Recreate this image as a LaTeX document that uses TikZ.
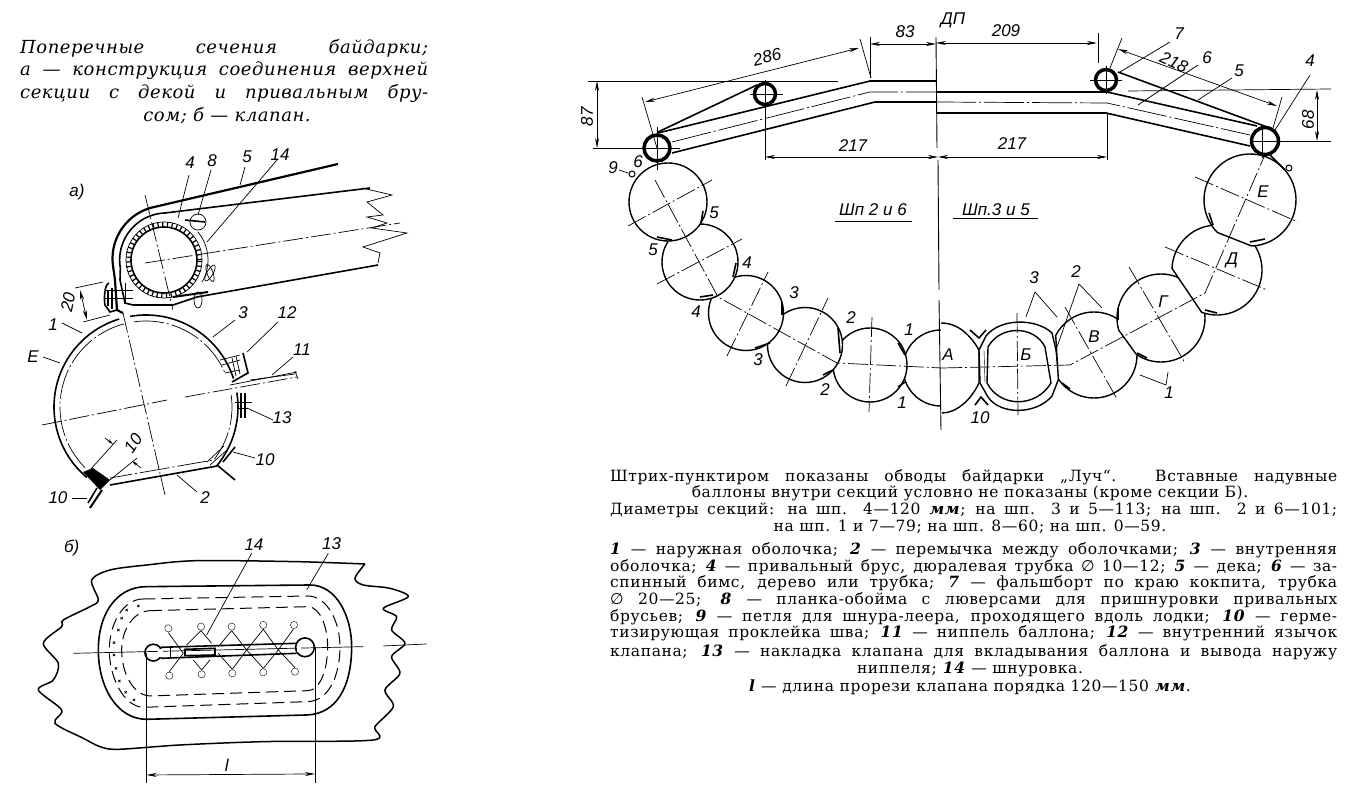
\documentclass[tikz,border=0pt]{standalone}
\usepackage{fontspec}
\usepackage{xcolor}
\usepackage{tikz}
\usetikzlibrary{arrows.meta}
\usetikzlibrary{plotmarks}
\setmainfont{DejaVu Serif}
\newfontfamily\capfont{DejaVu Serif}[LetterSpace=4]
\newfontfamily\titlefont{DejaVu Serif}[LetterSpace=3]
\newfontfamily\drawfont{Liberation Sans}
\newfontfamily\symfont{DejaVu Sans}
\newcommand{\nm}[1]{\textbf{\textit{#1}}}
\newcommand{\dia}{{\symfont ∅}}
\tikzset{
    hull/.style = {draw = black, fill = white, line width = 1.4pt},
    axisline/.style = {line width = 0.7pt, dash pattern = on 20pt off 3pt on 2pt off 3pt},
    dimline/.style = {line width = 0.7pt, {Stealth[length = 10pt, width = 4pt]}-{Stealth[length = 10pt, width = 4pt]}},
    thinline/.style = {line width = 0.7pt},
    wrapline/.style = {line width = 1.6pt},
    tube/.style = {draw = black, fill = white, line width = 3.5pt},
    numlabel/.style = {font = \drawfont\itshape\fontsize{17}{17}\selectfont, inner sep = 0pt},
    capline/.style = {font = \capfont\fontsize{15.5}{16}\selectfont, inner sep = 0pt},
    titleline/.style = {font = \titlefont\itshape\fontsize{18}{20}\selectfont, inner sep = 0pt}
}
\begin{document}
\begin{tikzpicture}[x = 1pt, y = -1pt]
        \useasboundingbox (0, 0) rectangle (1350, 791);

        \node[titleline, anchor = west] (title1) at (20, 48) {\makebox[408pt][s]{Поперечные сечения байдарки;}};
        \node[titleline, anchor = west] (title2) at (20, 71) {\makebox[408pt][s]{а — конструкция соединения верхней}};
        \node[titleline, anchor = west] (title3) at (20, 93) {\makebox[408pt][s]{секции с декой и привальным бру-}};
        \node[titleline] (title4) at (227, 116) {сом; б — клапан.};

        \draw[hull] (941, 330) arc[start angle = 90, delta angle = 180, radius = 38pt];
        \draw[hull] (941, 323) .. controls (960, 323) and (972, 338) .. (979, 350) -- (979, 383)
            .. controls (970, 402) and (955, 413) .. (942, 413);
        \draw[hull] (870, 365) circle (37pt);
        \draw[hull] (805, 345) circle (37.5pt);
        \draw[hull] (746, 313) circle (37.5pt);
        \draw[hull] (700, 262) circle (38pt);
        \draw[hull] (668, 202) circle (39pt);

        \draw[hull] (979, 350) -- (986, 336) .. controls (1000, 318) and (1036, 318) .. (1052, 333)
            -- (1056, 350) -- (1059, 378) -- (1052, 396) .. controls (1036, 415) and (1000, 415) .. (988, 397)
            -- (980, 383) -- cycle;
        \draw[hull] (988, 347) .. controls (1000, 325) and (1034, 325) .. (1045, 347) -- (1051, 383)
            .. controls (1036, 408) and (1000, 408) .. (987, 383) -- cycle;
        \draw (984, 350) -- (985, 383);

        \draw[hull] (1094, 355) ++(214:43pt) arc[start angle = 214, delta angle = 299, radius = 43pt] -- cycle;
        \draw[hull] (1161, 318) ++(236:44pt) arc[start angle = 236, delta angle = 320, radius = 44pt] -- cycle;
        \draw[hull] (1217, 270) ++(250:45pt) arc[start angle = 250, delta angle = 288, radius = 45pt] -- cycle;
        \draw[hull] (1250, 200) ++(272:46pt) arc[start angle = 272, delta angle = 313, radius = 46pt] -- cycle;

        \draw[wrapline] (703, 211) -- (701, 223);
        \draw[wrapline] (657, 237) -- (672, 240);
        \draw[wrapline] (736, 263) -- (733, 277);
        \draw[wrapline] (700, 297) -- (713, 295);
        \draw[wrapline] (782, 302) -- (782, 315);
        \draw[wrapline] (755, 348) -- (770, 343);
        \draw[wrapline] (838, 328) -- (840, 353);
        \draw[wrapline] (823, 375) -- (833, 370);
        \draw[wrapline] (898, 343) -- (905, 355);
        \draw[wrapline] (898, 387) -- (905, 382);
        \draw[wrapline] (1209, 213) -- (1213, 225);
        \draw[wrapline] (1250, 242) -- (1265, 239);
        \draw[wrapline] (1205, 310) -- (1217, 313);
        \draw[wrapline] (1118, 308) -- (1118, 320);
        \draw[wrapline] (1137, 353) -- (1147, 358);
        \draw[wrapline] (1062, 383) -- (1070, 389);
        \draw[wrapline] (970, 330) -- (979, 338) -- (986, 330);
        \draw[wrapline] (975, 405) -- (981, 397) -- (988, 405);

        \draw[axisline] (655, 180) -- (718, 297) -- (837, 363) -- (942, 368);
        \draw[axisline] (942, 368) -- (1070, 365) -- (1205, 293) -- (1267, 150);
        \draw[axisline] (628, 226) -- (712, 180);
        \draw[axisline] (657, 284) -- (742, 239);
        \draw[axisline] (727, 356) -- (768, 272);
        \draw[axisline] (786, 386) -- (828, 298);
        \draw[axisline] (872, 317) -- (869, 412);
        \draw[axisline] (1065, 307) -- (1117, 399);
        \draw[axisline] (1129, 267) -- (1185, 363);
        \draw[axisline] (1165, 247) -- (1267, 290);
        \draw[axisline] (1195, 177) -- (1298, 222);
        \draw[axisline] (1017, 313) -- (1018, 415);

        \draw[line width = 0.9pt] (936, 37) -- (937, 148);
        \draw[line width = 0.9pt] (938, 160) -- (939, 290);
        \draw[line width = 0.9pt] (939, 300) -- (941, 430);

        \draw[wrapline] (658, 133) -- (870, 81) -- (936, 81);
        \draw[thinline, dash pattern = on 40pt off 3pt on 2pt off 3pt] (672, 142) -- (870, 92) -- (936, 92);
        \draw[wrapline] (672, 153) -- (875, 102) -- (936, 102);
        \draw[wrapline] (936, 92) -- (1107, 92) -- (1257, 126);
        \draw[thinline, dash pattern = on 40pt off 3pt on 2pt off 3pt] (936, 102) -- (1107, 103) -- (1250, 135);
        \draw[wrapline] (936, 113) -- (1106, 113) -- (1250, 146);
        \draw[wrapline] (658, 132) -- (757, 85);
        \draw[wrapline] (1118, 72) -- (1267, 127);

        \filldraw[tube] (657, 148) circle (13pt);
        \filldraw[tube] (765, 94) circle (10.5pt);
        \filldraw[tube] (1106, 80) circle (10.5pt);
        \filldraw[tube] (1265, 141) circle (13.5pt);
        \draw[thinline] (657, 127) -- (657, 170);
        \draw[thinline] (640, 148) -- (680, 148);
        \draw[thinline] (765, 80) -- (765, 160);
        \draw[thinline] (750, 94) -- (783, 94);
        \draw[thinline] (1106, 66) -- (1106, 94);
        \draw[thinline] (1090, 80) -- (1122, 80);
        \draw[thinline] (1250, 141) -- (1331, 141);
        \draw[thinline] (1262, 125) -- (1262, 158);

        \draw[thinline] (588, 81) -- (838, 81);
        \draw[thinline] (593, 148) -- (642, 148);
        \draw[thinline] (1128, 91) -- (1331, 89);
        \draw[thinline] (642, 97) -- (657, 148);
        \draw[thinline] (860, 39) -- (871, 78);
        \draw[thinline] (870, 37) -- (870, 78);
        \draw[thinline] (1098, 33) -- (1098, 63);
        \draw[thinline] (1122, 38) -- (1110, 68);
        \draw[thinline] (1282, 97) -- (1273, 128);
        \draw[thinline] (1107, 113) -- (1107, 160);

        \draw[dimline] (597, 81) -- (597, 148);
        \draw[dimline] (645, 102) -- (859, 48);
        \draw[dimline] (870, 44) -- (936, 44);
        \draw[dimline] (936, 43) -- (1097, 43);
        \draw[dimline] (1118, 49) -- (1277, 106);
        \draw[dimline] (1317, 90) -- (1317, 141);
        \draw[dimline] (765, 157) -- (938, 157);
        \draw[dimline] (938, 157) -- (1107, 157);

        \node[numlabel, rotate = 90] (dim87) at (587, 117) {87};
        \node[numlabel, rotate = 14] (dim286) at (767, 57) {286};
        \node[numlabel] (dim83) at (905, 32) {83};
        \node[numlabel] (dimDP) at (953, 20) {ДП};
        \node[numlabel] (dim209) at (1006, 31) {209};
        \node[numlabel, rotate = -25] (dim218) at (1174, 62) {218};
        \node[numlabel, rotate = 90] (dim68) at (1308, 120) {68};
        \node[numlabel] (dim217l) at (853, 146) {217};
        \node[numlabel] (dim217r) at (1012, 144) {217};
        \node[numlabel] (frameL) at (873, 210) {Шп 2 и 6};
        \draw[thinline, line width = 1pt] (835, 222) -- (912, 222);
        \node[numlabel] (frameR) at (996, 210) {Шп.3 и 5};
        \draw[thinline, line width = 1pt] (953, 219) -- (1038, 219);

        \draw[thinline] (1170, 42) -- (1120, 72);
        \draw[thinline] (1198, 65) -- (1138, 105);
        \draw[thinline] (1232, 78) -- (1198, 100);
        \draw[thinline] (1310, 75) -- (1275, 130);
        \draw[thinline] (1035, 292) -- (1026, 317);
        \draw[thinline] (1035, 292) -- (1057, 317);
        \draw[thinline] (1079, 284) -- (1057, 347);
        \draw[thinline] (1079, 284) -- (1102, 308);
        \draw[thinline] (1140, 375) -- (1166, 385) -- (1168, 372);
        \draw[thinline] (619, 170) -- (628, 173);

        \node[numlabel] (num7) at (1179, 34) {7};
        \node[numlabel] (num6) at (1207, 58) {6};
        \node[numlabel] (num5) at (1239, 71) {5};
        \node[numlabel] (num4) at (1310, 61) {4};
        \node[numlabel] (num3r) at (1034, 278) {3};
        \node[numlabel] (num2r) at (1076, 272) {2};
        \node[numlabel] (num10r) at (980, 418) {10};
        \node[numlabel] (num1r) at (1169, 393) {1};
        \node[numlabel] (num9) at (613, 168) {9};
        \node[numlabel] (num6l) at (638, 162) {6};
        \node[numlabel] (num5a) at (714, 213) {5};
        \node[numlabel] (num5b) at (653, 250) {5};
        \node[numlabel] (num4a) at (747, 263) {4};
        \node[numlabel] (num4b) at (696, 312) {4};
        \node[numlabel] (num3a) at (794, 293) {3};
        \node[numlabel] (num3b) at (758, 360) {3};
        \node[numlabel] (num2a) at (851, 318) {2};
        \node[numlabel] (num2b) at (825, 390) {2};
        \node[numlabel] (num1a) at (909, 330) {1};
        \node[numlabel] (num1b) at (902, 403) {1};
        \node[numlabel] (secA) at (948, 355) {А};
        \node[numlabel] (secB) at (1026, 355) {Б};
        \node[numlabel] (secV) at (1094, 337) {В};
        \node[numlabel] (secG) at (1163, 302) {Г};
        \node[numlabel] (secD) at (1232, 260) {Д};
        \node[numlabel] (secE) at (1263, 192) {Е};

        \filldraw [color = black, fill = white, line width = 1pt] (632, 174) circle (3pt);
        \filldraw [color = black, fill = white, line width = 1pt] (1289, 168) circle (3pt);
        \draw[wrapline] (1270, 155) -- (1285, 170);

        \node[numlabel] (figa) at (77, 192) {а)};
        \draw[wrapline] (146, 407) ++(230:92pt) arc[start angle = 230, end angle = 107, radius = 92pt];
        \draw[wrapline] (146, 407) ++(100:92pt) arc[start angle = 100, end angle = 18, radius = 92pt];
        \draw[wrapline] (146, 407) ++(9:92pt) arc[start angle = 9, end angle = -40, radius = 92pt] -- (110, 485);
        \draw[thinline, dash pattern = on 30pt off 3pt on 2pt off 3pt] (146, 407) ++(225:86pt) arc[start angle = 225, end angle = 105, radius = 86pt];
        \draw[thinline, dash pattern = on 30pt off 3pt on 2pt off 3pt] (146, 407) ++(98:86pt) arc[start angle = 98, end angle = 22, radius = 86pt];
        \draw[thinline, dash pattern = on 30pt off 3pt on 2pt off 3pt] (146, 407) ++(8:86pt) arc[start angle = 8, end angle = -38, radius = 86pt] -- (110, 478);
        \fill[black] (83, 472) -- (93, 468) -- (110, 480) -- (100, 490) -- cycle;
        \draw[line width = 2pt] (102, 490) -- (90, 508);
        \draw[wrapline] (97, 488) -- (88, 503);
        \draw[wrapline] (217, 465) -- (235, 480);
        \draw[wrapline] (223, 462) -- (235, 447);
        \draw[thinline] (207, 462) -- (224, 446);
        \draw[thinline] (210, 465) -- (227, 450);

        \draw[axisline] (123, 313) -- (165, 495);
        \draw[axisline] (42, 425) -- (167, 400);
        \draw[axisline] (185, 397) -- (297, 377);

        \draw[line width = 2.2pt] (338, 164) -- (150, 208) arc[start angle = 107, end angle = 190, radius = 53pt] -- (115, 280) -- (117, 310) -- (123, 313);
        \draw[wrapline] (370, 188) -- (165, 213) arc[start angle = 92, end angle = 190, radius = 47pt] -- (120, 280) -- (125, 303) -- (133, 305) -- (173, 305) -- (197, 297) -- (378, 265);
        \draw[thinline] (164, 260) ++(40:44pt) arc[start angle = 40, end angle = -30, radius = 44pt];
        \draw[wrapline] (164, 260) circle (33pt);
        \draw[thinline] (164, 260) circle (38pt);
        \draw[line width = 5pt, dash pattern = on 1.2pt off 3.5pt] (164, 260) circle (35.5pt);

        \draw[axisline] (145, 195) -- (173, 310);
        \draw[axisline] (145, 263) -- (400, 223);
        \draw[thinline] (362, 188) -- (392, 195) -- (367, 202) -- (383, 215) -- (367, 217) -- (387, 223) -- (372, 228) -- (407, 233) -- (363, 247) -- (380, 253) -- (378, 263);

        \draw[wrapline] (185, 220) -- (205, 222);
        \draw[thinline] (198, 222) ellipse (8pt and 8pt);
        \draw[line width = 2pt] (173, 297) -- (208, 292);
        \draw[thinline, rotate around = {60:(210, 273)}] (210, 273) ellipse (9pt and 3pt);
        \draw[thinline, rotate around = {110:(210, 273)}] (210, 273) ellipse (9pt and 3pt);
        \draw[thinline] (198, 300) ellipse (4pt and 8pt);

        \draw[wrapline] (109, 283) .. controls (104, 285) and (104, 300) .. (105, 305) -- (110, 312) -- (117, 310);
        \draw[wrapline] (108, 290) -- (108, 306);
        \draw[wrapline] (112, 288) -- (112, 309);
        \draw[thinline] (105, 290) -- (133, 290);
        \draw[thinline] (105, 298) -- (133, 298);
        \draw[thinline] (125, 283) -- (125, 303);
        \draw[thinline] (75, 288) -- (103, 282);
        \draw[thinline] (83, 322) -- (110, 315);
        \draw[dimline] (80, 290) -- (87, 320);
        \node[numlabel, rotate = 78] (dim20) at (68, 302) {20};

        \draw[wrapline] (243, 353) -- (248, 373) -- (232, 382);
        \draw[thinline] (220, 360) -- (240, 355);
        \draw[thinline] (222, 365) -- (240, 360);
        \draw[thinline] (225, 373) -- (240, 370);
        \draw[thinline] (232, 358) -- (236, 376);
        \draw[thinline] (236, 356) -- (240, 374);
        \draw[thinline] (230, 385) -- (297, 372);
        \draw[thinline] (250, 380) -- (295, 374);
        \draw[thinline] (295, 371) -- (298, 379);
        \draw[wrapline] (241, 393) -- (241, 418);
        \draw[wrapline] (245, 393) -- (245, 418);
        \draw[thinline] (235, 402) -- (252, 402);
        \draw[thinline] (237, 408) -- (248, 408);

        \draw[thinline] (90, 470) -- (117, 440);
        \draw[thinline] (110, 480) -- (137, 458);
        \draw[thinline, -{Stealth[length = 6pt, width = 3pt]}] (105, 438) -- (113, 444);
        \draw[thinline, -{Stealth[length = 6pt, width = 3pt]}] (141, 468) -- (132, 461);
        \node[numlabel, rotate = 55] (dim10) at (133, 443) {10};

        \draw[thinline] (189, 175) -- (178, 218);
        \draw[thinline] (211, 170) -- (198, 215);
        \draw[thinline] (245, 167) -- (240, 185);
        \draw[thinline] (277, 160) -- (207, 242);
        \draw[thinline] (62, 323) -- (82, 333);
        \draw[thinline] (43, 357) -- (60, 363);
        \draw[thinline] (235, 320) -- (213, 337);
        \draw[thinline] (278, 322) -- (247, 352);
        \draw[thinline] (293, 357) -- (272, 375);
        \draw[thinline] (273, 420) -- (247, 408);
        \draw[thinline] (233, 452) -- (255, 458);
        \draw[thinline] (72, 498) -- (87, 498);
        \draw[thinline] (177, 475) -- (197, 492);

        \node[numlabel] (anum4) at (190, 163) {4};
        \node[numlabel] (anum8) at (212, 161) {8};
        \node[numlabel] (anum5) at (247, 157) {5};
        \node[numlabel] (anum14) at (280, 155) {14};
        \node[numlabel] (anum1) at (53, 325) {1};
        \node[numlabel] (anumE) at (33, 357) {Е};
        \node[numlabel] (anum3) at (243, 313) {3};
        \node[numlabel] (anum12) at (287, 313) {12};
        \node[numlabel] (anum11) at (302, 350) {11};
        \node[numlabel] (anum13) at (282, 418) {13};
        \node[numlabel] (anum10) at (265, 460) {10};
        \node[numlabel] (anum10l) at (58, 498) {10};
        \node[numlabel] (anum2) at (205, 498) {2};

        \begin{scope}[shift = {(30, 490)}, x = 0.3333pt, y = -0.3333pt]
        \node[numlabel] (figb) at (125, 175) {б)};
        \node[numlabel] (bnum14) at (672, 165) {14};
        \node[numlabel] (bnum13) at (905, 160) {13};
        \node[numlabel] (bnuml) at (590, 825) {l};

        \draw[line width = 1.5pt] plot[smooth] coordinates {(1005, 222) (800, 215) (500, 212) (350, 225) (240, 240) (185, 270) (205, 330) (180, 350) (100, 390) (95, 410) (40, 460) (85, 520) (70, 570) (25, 600) (95, 660) (75, 700) (160, 745) (210, 770) (265, 778) (450, 765) (700, 755) (1030, 750) (1035, 710) (1090, 650) (1065, 600) (1110, 550) (1085, 500) (1125, 460) (1085, 420) (1100, 380) (1060, 355) (1135, 320) (1080, 295) (1000, 285) (975, 265) (1005, 222)};

        \draw[wrapline] (350, 290) -- (840, 285) .. controls (920, 285) and (965, 380) .. (965, 470)
            .. controls (965, 590) and (920, 672) .. (830, 675) -- (350, 688)
            .. controls (260, 688) and (205, 590) .. (205, 480) .. controls (205, 370) and (260, 290) .. (350, 290) -- cycle;
        \draw[thinline, line width = 1pt, dash pattern = on 12pt off 6pt] (340, 327) -- (835, 318) .. controls (895, 320) and (930, 400) .. (930, 470)
            .. controls (930, 560) and (895, 632) .. (835, 635) -- (340, 652)
            .. controls (280, 650) and (238, 560) .. (238, 480) .. controls (238, 400) and (280, 327) .. (340, 327);
        \draw[thinline, line width = 1pt, dash pattern = on 12pt off 6pt] (360, 362) -- (835, 350) .. controls (870, 352) and (893, 410) .. (893, 470)
            .. controls (893, 540) and (870, 600) .. (835, 602) -- (360, 618)
            .. controls (310, 616) and (275, 550) .. (275, 480) .. controls (275, 420) and (310, 364) .. (360, 362);
        \draw[thinline] plot[only marks, mark = x, mark size = 1.6pt] coordinates {(325, 348) (290, 360) (275, 385) (265, 420) (252, 458) (252, 495) (258, 535) (268, 573) (287, 607) (312, 630)};

        \draw[thinline] (130, 490) -- (1000, 470);
        \draw[thinline] (1060, 468) -- (1190, 462);

        \draw[thinline] (415, 428) -- (460, 490);
        \draw[thinline] (513, 422) -- (470, 465);
        \draw[thinline] (513, 422) -- (545, 460);
        \draw[thinline] (605, 422) -- (565, 470);
        \draw[thinline] (605, 422) -- (650, 480);
        \draw[thinline] (700, 418) -- (650, 480);
        \draw[thinline] (700, 418) -- (745, 480);
        \draw[thinline] (790, 418) -- (745, 480);
        \draw[thinline] (418, 545) -- (460, 490);
        \draw[thinline] (515, 540) -- (490, 510);
        \draw[thinline] (515, 540) -- (540, 510);
        \draw[thinline] (607, 538) -- (565, 490);
        \draw[thinline] (607, 538) -- (650, 480);
        \draw[thinline] (700, 535) -- (650, 480);
        \draw[thinline] (700, 535) -- (745, 480);
        \draw[thinline] (795, 533) -- (745, 480);

        \filldraw [color = black, fill = white] (415, 415) circle (3.6pt);
        \filldraw [color = black, fill = white] (513, 410) circle (3.6pt);
        \filldraw [color = black, fill = white] (605, 410) circle (3.6pt);
        \filldraw [color = black, fill = white] (700, 405) circle (3.6pt);
        \filldraw [color = black, fill = white] (792, 405) circle (3.6pt);
        \filldraw [color = black, fill = white] (418, 557) circle (3.6pt);
        \filldraw [color = black, fill = white] (515, 553) circle (3.6pt);
        \filldraw [color = black, fill = white] (607, 550) circle (3.6pt);
        \filldraw [color = black, fill = white] (700, 547) circle (3.6pt);
        \filldraw [color = black, fill = white] (795, 545) circle (3.6pt);

        \draw[wrapline] (392, 472) -- (800, 460);
        \draw[wrapline] (392, 505) -- (800, 490);
        \draw[thinline] (420, 470) -- (420, 503);
        \draw[wrapline] (465, 478) -- (555, 475) -- (555, 495) -- (465, 497) -- cycle;
        \draw[wrapline] (370, 488) circle (8.4pt);
        \draw[wrapline] (825, 472) circle (9.4pt);
        \fill[white] (385, 476) rectangle (398, 500);
        \fill[white] (802, 463) rectangle (812, 487);

        \draw[thinline] (350, 490) -- (350, 880);
        \draw[thinline] (855, 470) -- (855, 880);
        \draw[dimline] (350, 855) -- (855, 852);
        \draw[thinline] (665, 190) -- (530, 435);
        \draw[thinline] (895, 190) -- (830, 300);
        \end{scope}

        \node[capline, anchor = west] (cap1) at (610, 477) {\makebox[727pt][s]{Штрих-пунктиром показаны обводы байдарки „Луч“. Вставные надувные}};
        \node[capline] (cap2) at (970, 493) {баллоны внутри секций условно не показаны (кроме секции Б).};
        \node[capline, anchor = west] (cap3) at (610, 510) {\makebox[727pt][s]{Диаметры секций: на шп. 4—120 \nm{мм}; на шп. 3 и 5—113; на шп. 2 и 6—101;}};
        \node[capline] (cap4) at (970, 527) {на шп. 1 и 7—79; на шп. 8—60; на шп. 0—59.};
        \node[capline, anchor = west] (cap5) at (610, 550) {\makebox[727pt][s]{\nm{1} — наружная оболочка; \nm{2} — перемычка между оболочками; \nm{3} — внутренняя}};
        \node[capline, anchor = west] (cap6) at (610, 567) {\makebox[727pt][s]{оболочка; \nm{4} — привальный брус, дюралевая трубка \dia{} 10—12; \nm{5} — дека; \nm{6} — за-}};
        \node[capline, anchor = west] (cap7) at (610, 583) {\makebox[727pt][s]{спинный бимс, дерево или трубка; \nm{7} — фальшборт по краю кокпита, трубка}};
        \node[capline, anchor = west] (cap8) at (610, 600) {\makebox[727pt][s]{\dia{} 20—25; \nm{8} — планка-обойма с люверсами для пришнуровки привальных}};
        \node[capline, anchor = west] (cap9) at (610, 617) {\makebox[727pt][s]{брусьев; \nm{9} — петля для шнура-леера, проходящего вдоль лодки; \nm{10} — герме-}};
        \node[capline, anchor = west] (cap10) at (610, 633) {\makebox[727pt][s]{тизирующая проклейка шва; \nm{11} — ниппель баллона; \nm{12} — внутренний язычок}};
        \node[capline, anchor = west] (cap11) at (610, 652) {\makebox[727pt][s]{клапана; \nm{13} — накладка клапана для вкладывания баллона и вывода наружу}};
        \node[capline] (cap12) at (970, 669) {ниппеля; \nm{14} — шнуровка.};
        \node[capline] (cap13) at (970, 687) {\nm{l} — длина прорези клапана порядка 120—150 \nm{мм}.};
\end{tikzpicture}
\end{document}
